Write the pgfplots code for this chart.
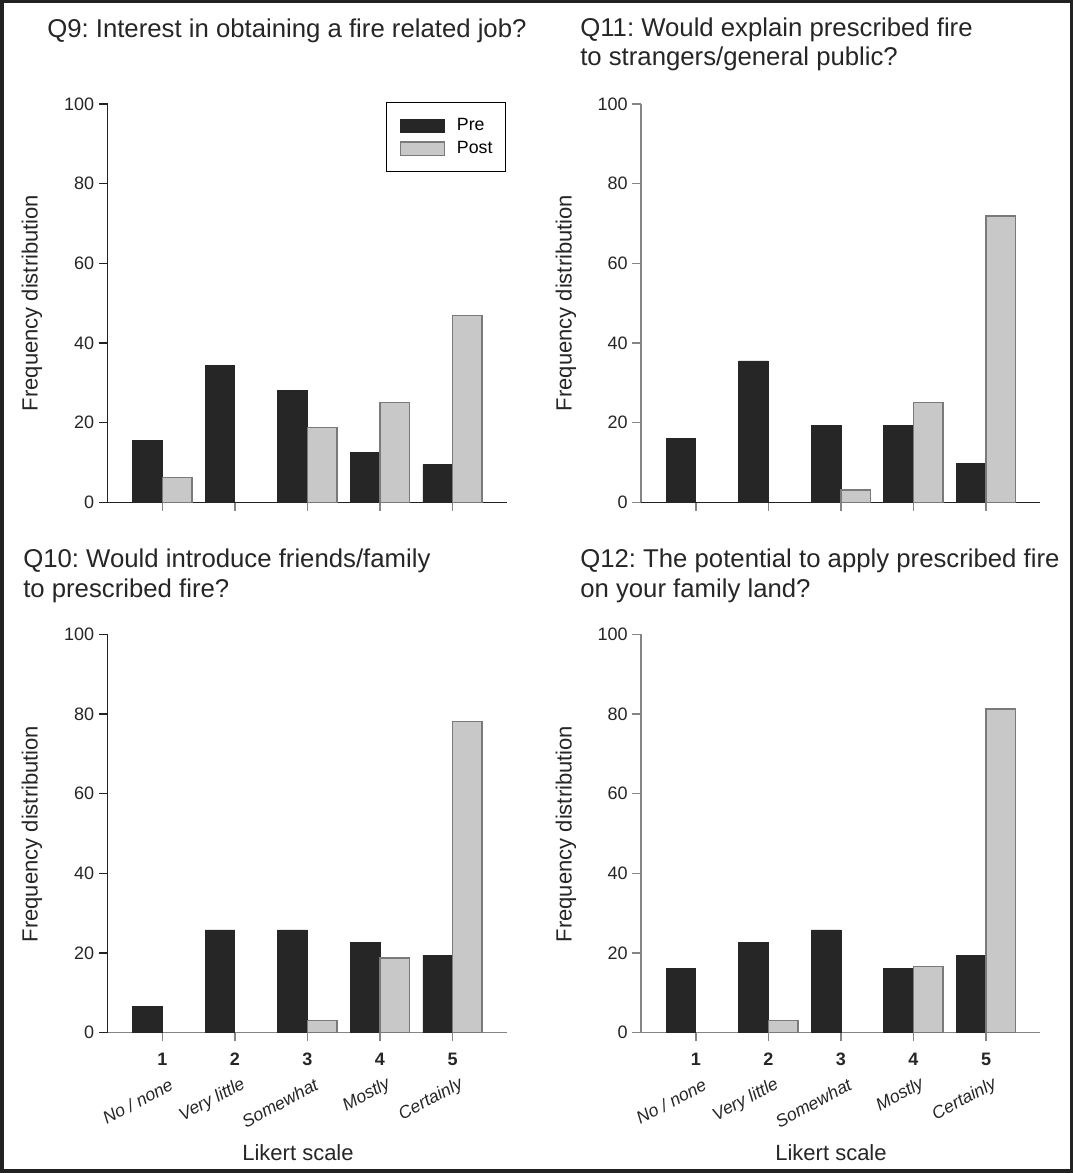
\documentclass[border=0pt]{standalone}
\usepackage{fontspec}
\setmainfont{Liberation Sans}
\usepackage{pgfplots}
\pgfplotsset{compat=1.18}
\usetikzlibrary{calc}
\frenchspacing

\definecolor{pre}{HTML}{262626}
\definecolor{post}{HTML}{C8C8C8}
\definecolor{postedge}{HTML}{7A7A7A}
\definecolor{axgray}{HTML}{858585}
\definecolor{axdark}{HTML}{222222}
\definecolor{frame}{HTML}{222222}

\pgfplotsset{
 panel/.style={
  scale only axis, width=299.6pt, height=298.7pt,
  xmin=0.245, xmax=5.75, ymin=0, ymax=100,
  xtick={1,2,3,4,5}, ytick={0,20,40,60,80,100},
  axis lines=left, axis line style={-, line width=1.1pt},
  tick align=outside, major tick length=6.5pt,
  every tick/.style={line width=1.1pt},
  /pgf/number format/assume math mode=true,
  tick label style={font=\fontsize{13.5}{16}\selectfont, text=black!85},
  clip=false,
 },
 leftpanel/.style={y axis line style={draw=axdark}, ytick style={draw=axdark}},
 rightpanel/.style={y axis line style={draw=axgray}, ytick style={draw=axgray}},
 topx/.style={x axis line style={draw=axdark}, xtick style={draw=axgray}, xticklabels={}},
 botx/.style={x axis line style={draw=axgray}, xtick style={draw=axgray},
   xticklabels={1,2,3,4,5},
   xticklabel style={font=\bfseries\fontsize{13.5}{16}\selectfont, yshift=-5pt}},
 prebar/.style={ybar, bar width=0.408, bar shift=-0.204, fill=pre, draw=pre, line width=0.6pt,
   legend image code/.code={\draw[fill=pre,draw=pre] (0pt,-4.9pt) rectangle (33pt,4.9pt);}},
 postbar/.style={ybar, bar width=0.408, bar shift=0.204, fill=post, draw=postedge, line width=1pt,
   legend image code/.code={\draw[fill=post,draw=postedge,line width=1pt] (0pt,-4.9pt) rectangle (33pt,4.9pt);}},
}

\tikzset{lk/.style={rotate=28, anchor=east, inner sep=0pt, font=\itshape\fontsize{13.2}{15}\selectfont, text=black!85}}
\newcommand\likert{%
 \node[lk] at ($(axis cs:1,0)+(7pt,-38pt)$) {No / none};
 \node[lk] at ($(axis cs:2,0)+(7pt,-38pt)$) {Very little};
 \node[lk] at ($(axis cs:3,0)+(7pt,-38pt)$) {Somewhat};
 \node[lk] at ($(axis cs:4,0)+(7pt,-38pt)$) {Mostly};
 \node[lk] at ($(axis cs:5,0)+(7pt,-38pt)$) {Certainly};
}

\begin{document}
\begin{tikzpicture}[x=0.75pt,y=-0.75pt]
\fill[frame] (0,0) rectangle (1073,1173);
\fill[white] (4,3) rectangle (1070,1169);

\tikzset{ttl/.style={anchor=base west, inner sep=0pt, font=\fontsize{19.3}{23}\selectfont, text=black!85},
 ylab/.style={rotate=90, font=\fontsize{16.5}{20}\selectfont, text=black!85},
 xlab/.style={font=\fontsize{16.5}{20}\selectfont, text=black!85}}

% Titles
\node[ttl] at (47,38) {Q9: Interest in obtaining a fire related job?};
\node[ttl] at (580,37) {Q11: Would explain prescribed fire};
\node[ttl] at (580,66) {to strangers/general public?};
\node[ttl] at (23,567) {Q10: Would introduce friends/family};
\node[ttl] at (23,597) {to prescribed fire?};
\node[ttl] at (580,567) {Q12: The potential to apply prescribed fire};
\node[ttl] at (580,597) {on your family land?};

% Axis labels
\node[ylab] at (32,303) {Frequency distribution};
\node[ylab] at (566,303) {Frequency distribution};
\node[ylab] at (32,834) {Frequency distribution};
\node[ylab] at (566,834) {Frequency distribution};
\node[xlab] at (298,1153) {Likert scale};
\node[xlab] at (831,1153) {Likert scale};

% Q9
\begin{axis}[panel, leftpanel, topx, at={(80.625pt,-376.725pt)}, anchor=south west,
  legend cell align=left,
  legend style={at={(0.9975,1.005)}, anchor=north east, draw=black, line width=0.8pt,
    inner xsep=9.75pt, inner ysep=12pt, row sep=6.5pt,
    font=\fontsize{13.3}{15}\selectfont,
    nodes={inner sep=0pt},
    /tikz/every odd column/.append style={column sep=9pt}}]
\addplot[prebar] coordinates {(1,15.6) (2,34.4) (3,28.1) (4,12.5) (5,9.4)};
\addplot[postbar] coordinates {(1,6.25) (3,18.75) (4,25) (5,46.9)};
\legend{Pre,Post}
\end{axis}

% Q11
\begin{axis}[panel, rightpanel, topx, at={(480.75pt,-376.725pt)}, anchor=south west]
\addplot[prebar] coordinates {(1,16.1) (2,35.5) (3,19.4) (4,19.4) (5,9.7)};
\addplot[postbar] coordinates {(3,3.1) (4,25) (5,71.9)};
\end{axis}

% Q10
\begin{axis}[panel, leftpanel, botx, at={(80.625pt,-774.525pt)}, anchor=south west]
\addplot[prebar] coordinates {(1,6.5) (2,25.8) (3,25.8) (4,22.6) (5,19.4)};
\addplot[postbar] coordinates {(3,3.1) (4,18.75) (5,78.1)};
\likert
\end{axis}

% Q12
\begin{axis}[panel, rightpanel, botx, at={(480.75pt,-774.525pt)}, anchor=south west]
\addplot[prebar] coordinates {(1,16.1) (2,22.6) (3,25.8) (4,16.1) (5,19.4)};
\addplot[postbar] coordinates {(2,3.1) (4,16.6) (5,81.3)};
\likert
\end{axis}
\end{tikzpicture}
\end{document}
